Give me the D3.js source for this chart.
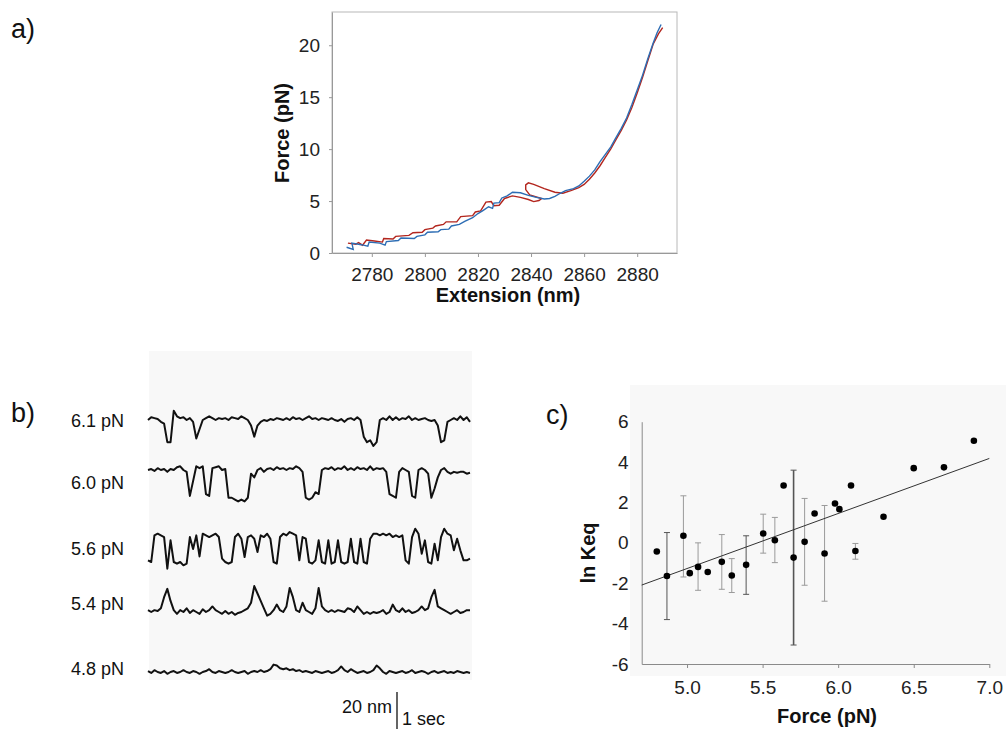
<!DOCTYPE html>
<html>
<head>
<meta charset="utf-8">
<script src="https://cdn.jsdelivr.net/npm/d3@7"></script>
<style>
  body { margin: 0; background: #fff; }
  svg { font-family: "Liberation Sans", Arial, sans-serif; }
  .tick text { fill: #222; }
</style>
</head>
<body>
<div id="fig"></div>
<script>
// ---- panel a: force-extension curves (blue = stretch, red = relax)
var blue_ext = [2770.5, 2773, 2772.5, 2776, 2778.5, 2779, 2783, 2785, 2785.5, 2790, 2791, 2796, 2797, 2800, 2801, 2805, 2806, 2809, 2810, 2813, 2815, 2818, 2820, 2822, 2824, 2825.5, 2826, 2828, 2829, 2831, 2833, 2836, 2839, 2842, 2845, 2847, 2849, 2851, 2853, 2856, 2858, 2860, 2862, 2864, 2866, 2868, 2870, 2872, 2874, 2876, 2878, 2880, 2882, 2884, 2886, 2887.5, 2889];
var blue_force = [0.55, 0.35, 0.95, 0.8, 0.65, 1.05, 0.95, 0.75, 1.1, 1.2, 1.45, 1.4, 1.6, 1.75, 2.0, 2.05, 2.25, 2.3, 2.6, 2.75, 3.05, 3.4, 3.8, 4.1, 4.45, 4.3, 4.8, 4.85, 5.3, 5.5, 5.85, 5.8, 5.55, 5.35, 5.2, 5.25, 5.45, 5.75, 6.0, 6.2, 6.45, 6.9, 7.4, 8.0, 8.8, 9.5, 10.2, 11.1, 12.0, 13.0, 14.3, 15.7, 17.1, 18.7, 20.2, 21.2, 22.0];
var red_ext = [2771, 2774, 2775, 2776.5, 2778, 2781, 2784, 2784.5, 2788, 2789, 2794, 2795.5, 2799, 2800, 2803, 2804, 2807, 2808, 2812, 2813.5, 2818, 2819, 2821, 2823, 2825, 2826, 2828, 2830, 2833, 2836, 2839, 2841, 2843, 2844, 2839.5, 2838, 2838, 2839, 2841, 2845, 2849, 2852, 2855, 2858, 2860, 2862, 2864, 2866, 2868, 2870, 2872, 2874, 2876, 2878, 2880, 2882, 2884, 2886, 2888, 2889.6];
var red_force = [0.95, 0.85, 1.0, 0.75, 1.25, 1.15, 1.05, 1.4, 1.35, 1.6, 1.7, 1.95, 2.0, 2.25, 2.4, 2.6, 2.75, 3.0, 3.0, 3.5, 3.6, 3.95, 4.05, 4.9, 4.95, 4.55, 4.6, 5.25, 5.5, 5.35, 5.15, 4.95, 5.05, 5.25, 5.6, 6.1, 6.55, 6.75, 6.6, 6.2, 5.85, 5.75, 6.0, 6.3, 6.6, 7.1, 7.7, 8.4, 9.2, 10.0, 10.9, 11.8, 12.8, 14.0, 15.4, 16.9, 18.5, 20.1, 21.1, 21.7];
var a_xticks = [2780, 2800, 2820, 2840, 2860, 2880];
var a_yticks = [0, 5, 10, 15, 20];

// ---- panel b: extension time traces (nm, up = longer), one sample per step
var trace_labels = ["6.1 pN", "6.0 pN", "5.6 pN", "5.4 pN", "4.8 pN"];
var trace_61 = [0, 1.5, 1, 0.5, -1, -2, -12, -12, 5, 2, 1, 1.5, 0, 1, -1, -10, -5, 0, 1, 2, 1, 0, 1, 0.5, 1, 0, 1.5, 1, 0.5, 2, 1, 0, -3, -9, -3, -1, 0, -0.5, 0.5, 0, 1, 0.5, 0, 1, 0, 1.5, 0.5, 1, 0, 1, 2, 0.5, 1, 0, 1, 0.5, 0, 1, 0, -0.5, 0.5, -1, 0.5, 1, 0, 1.5, 0, -9, -12, -11, -14, -12, 0, 1, 0, 2, 0, 1.5, 0, 1, 0.5, 2, 0, 1, 0, 0.5, 1, 0, -0.5, 0, -3, -12, -11, -1, 0, 1, 0, 2, 0, 1.5, -1];
var trace_60 = [0, 0.5, -0.5, 1, 0, 0.5, -1, 0.5, 0, 1.5, 2, 0, -1, -14, -6, 2, 1, 2, -13, -14, 1, 1.5, 2, 0, 0.5, -15, -15, -16, -17, -16, -17, -15, -2, -4, 0, 1, -1, 0.5, 1, 0, 1.5, 0.5, 1, 0, 1, 0.5, 2, 1, -1, -15, -16, -15, -12, -13, 0, 1, 0.5, 1.5, 0, 1, 0.5, 2, 0, 1, 0, 1.5, 0.5, 1, 0, 2, 0, 1, 0.5, 1, -1, -13, -14, -15, -1, 1, 0, -1, -14, -15, 0, 1, 0, -2, -15, -10, -4, 0, 1, -1, -2, -1, -1.5, -1, -1, -2, -1.5];
var trace_56 = [0.9, 0, 14.4, 15.3, 14.4, 13.5, -3.6, 11.7, 0, -0.9, 0, -1.8, -0.9, 13.5, 7, 14.4, 3, 15.3, 14.4, 13.5, 14.4, 15.3, 13.5, 1.8, 0, -0.9, 0, 13.5, 15.3, 12.6, 2.7, 13.5, 14.4, 12.6, 5.4, 14.4, 13.5, 15.3, 12.6, 0, -0.9, 13.5, 15.3, 14.4, 16.2, 15.3, 14.4, 0.9, 13.5, 12.6, 0, -0.9, 0.9, 11.7, 0, -0.9, 11.7, -0.9, 0, 11.7, 0, -0.9, 0, 12.6, 0, -0.9, 12.6, 0, -0.9, 12.6, 15.3, 15.3, 14.4, 15.3, 14.4, 15.3, 13.5, 14.4, 13.5, 14.4, 0.9, -0.9, 13.5, 18, 15.3, 4.5, 11.7, 0, -0.9, 9.9, 0.9, 13.5, 18, 15.3, 14.4, 6.3, 12.6, 6.3, 0.9, 0.9, 1.8];
var trace_54 = [1, 0, 1, 0.5, 2, 8, 12.5, 6, 1, -1, 1, 0, 2, -0.5, 1, 0, -1, 1.5, 0, 1, 3, 1, 0, -1, 0.5, -1, 0, -1.5, -0.5, 0, 1, 2, 5, 14, 10, 6, 2, -2, -1, 1, 4, 1, 0, 3, 13, 8, 1, 0, 5, 1, 0, -1, 2, 13, 3, 1, 0, 1, 0, 1, 0.5, 0, 2, 1.5, 0, 3, 1, -1, 0, -1, 0, -0.5, 0, 1, -1, 0, 4, 1, 0, 2, 0, 1, -0.5, 0, 1, 3, 1, 2, 8, 12, 3, 2, 1, 0, -1, 0, 1, -0.5, 0, 1, 1];
var trace_48 = [0.5, -0.5, 1, 0, -0.5, 0.5, -1, 0, 0.5, -0.5, 0, 1, 0, -0.5, 0.5, 0, -1, 0, 0.5, 1.5, 0, -0.5, 0.5, 0, -0.5, 0, 1, 0, -0.5, 0, 0.5, -1, 0, 0.5, 0, 1, 0, 0.5, 1.5, 4, 3.5, 2, 1.5, 2, 1, 1.5, 0.5, 1, 0, 0.5, 0, -0.5, 0.5, 0, -0.5, 0, 0.5, -0.5, 0, 1, 3, 1, 0, 1.5, 0.5, -0.5, 0, 0.5, -0.5, 0, 1, 3.5, 2, 0, -1, 0.5, 0, -0.5, 0, 0.5, -0.5, 0, 1, -0.5, 0, 0.5, 0, -1, 0, 0.5, -0.5, 0, 0.5, -0.5, 0, -0.5, 0.5, 0, -0.5, 0, -0.5];

// ---- panel c: ln Keq vs force with error bars and linear fit
var c_force = [4.80, 4.867, 4.976, 5.018, 5.073, 5.137, 5.23, 5.296, 5.391, 5.504, 5.581, 5.639, 5.705, 5.778, 5.844, 5.910, 5.979, 6.008, 6.085, 6.114, 6.30, 6.50, 6.70, 6.898];
var c_lnkeq = [-0.43, -1.64, 0.35, -1.50, -1.19, -1.44, -0.94, -1.62, -1.09, 0.46, 0.13, 2.84, -0.73, 0.05, 1.45, -0.53, 1.95, 1.67, 2.84, -0.40, 1.29, 3.70, 3.74, 5.06];
var c_err_hi = [null, 0.51, 2.33, null, 0.0, null, 0.41, -0.78, 0.35, 1.42, 1.26, null, 3.60, 2.20, null, 1.85, null, null, null, -0.03, null, null, null, null];
var c_err_lo = [null, -3.80, -1.69, null, -2.35, null, -2.30, -2.46, -2.55, -0.51, -0.98, null, -5.06, -2.10, null, -2.89, null, null, null, -0.81, null, null, null, null];
var fit_x = [4.7, 7.0];
var fit_y = [-2.09, 4.18];
var c_xticks = [5.0, 5.5, 6.0, 6.5, 7.0];
var c_yticks = [-6, -4, -2, 0, 2, 4, 6];

var w = 1006, h = 729;
var svg = d3.select("#fig").append("svg").attr("width", w).attr("height", h);

// panel letters
function panelLabel(txt, x, y) {
	svg.append("text").attr("x", x).attr("y", y).attr("font-size", 27).attr("fill", "#111").text(txt);
}
panelLabel("a)", 11, 38);
panelLabel("b)", 11, 422);
panelLabel("c)", 546, 424);

// ---------------- panel a
function drawPanelA() {
	var x = d3.scaleLinear().domain([2765, 2895]).range([332, 677]);
	var y = d3.scaleLinear().domain([0, 23.2]).range([253, 12]);
	var g = svg.append("g");

	g.append("rect").attr("x", 332).attr("y", 12).attr("width", 345).attr("height", 241)
		.attr("fill", "#fff").attr("stroke", "#b8b8b8");

	var xa = g.append("g").attr("transform", "translate(0,253)")
		.call(d3.axisBottom(x).tickValues(a_xticks).tickFormat(d3.format("d")).tickSize(4).tickPadding(11).tickSizeOuter(0));
	var ya = g.append("g").attr("transform", "translate(332,0)")
		.call(d3.axisLeft(y).tickValues(a_yticks).tickSize(3).tickPadding(9).tickSizeOuter(0));
	[xa, ya].forEach(function(a) {
		a.selectAll("path,line").attr("stroke", "#999");
		a.selectAll("text").attr("font-size", 19);
	});

	var line = d3.line().x(function(d) { return x(d[0]); }).y(function(d) { return y(d[1]); });
	var red = d3.zip(red_ext, red_force);
	var blue = d3.zip(blue_ext, blue_force);
	g.append("path").attr("d", line(red)).attr("fill", "none").attr("stroke", "#b3261e").attr("stroke-width", 1.4);
	g.append("path").attr("d", line(blue)).attr("fill", "none").attr("stroke", "#2d6db4").attr("stroke-width", 1.4);

	g.append("text").attr("transform", "translate(289,133) rotate(-90)").attr("text-anchor", "middle")
		.attr("font-size", 20).attr("font-weight", "bold").attr("fill", "#111").text("Force (pN)");
	g.append("text").attr("x", 508).attr("y", 302).attr("text-anchor", "middle")
		.attr("font-size", 20).attr("font-weight", "bold").attr("fill", "#111").text("Extension (nm)");
}

// ---------------- panel b
function drawPanelB() {
	var traces = [trace_61, trace_60, trace_56, trace_54, trace_48];
	var baselines = [420, 470, 562, 612, 672];
	var label_y = [427, 489, 555, 610, 675];
	var g = svg.append("g");

	g.append("rect").attr("x", 149).attr("y", 351).attr("width", 323).attr("height", 329).attr("fill", "#f8f8f8");

	var nm = d3.scaleLinear().domain([0, 20]).range([0, -37]);   // 20 nm scale bar = 37 px

	traces.forEach(function(t, k) {
		var x = d3.scaleLinear().domain([0, t.length - 1]).range([148, 470]);
		var line = d3.line()
			.x(function(d, i) { return x(i); })
			.y(function(d) { return baselines[k] + nm(d); });
		g.append("path").attr("d", line(t)).attr("fill", "none")
			.attr("stroke", "#111").attr("stroke-width", 2).attr("stroke-linejoin", "round");
		g.append("text").attr("x", 124).attr("y", label_y[k]).attr("text-anchor", "end")
			.attr("font-size", 18).attr("fill", "#111").text(trace_labels[k]);
	});

	// scale bar
	g.append("line").attr("x1", 397).attr("x2", 397).attr("y1", 729 + nm(20)).attr("y2", 729)
		.attr("stroke", "#111").attr("stroke-width", 1.3);
	g.append("text").attr("x", 392).attr("y", 713).attr("text-anchor", "end").attr("font-size", 18).attr("fill", "#111").text("20 nm");
	g.append("text").attr("x", 402).attr("y", 725).attr("font-size", 18).attr("fill", "#111").text("1 sec");
}

// ---------------- panel c
function drawPanelC() {
	var x = d3.scaleLinear().domain([4.7, 7.0]).range([641.7, 989.3]);
	var y = d3.scaleLinear().domain([-6, 6]).range([664, 421.7]);
	var g = svg.append("g");

	g.append("rect").attr("x", 630).attr("y", 385).attr("width", 376).attr("height", 291).attr("fill", "#f8f8f8");

	var xa = g.append("g").attr("transform", "translate(0,664)")
		.call(d3.axisBottom(x).tickValues(c_xticks).tickFormat(d3.format(".1f")).tickSize(4).tickPadding(13).tickSizeOuter(0));
	var ya = g.append("g").attr("transform", "translate(641.7,0)")
		.call(d3.axisLeft(y).tickValues(c_yticks).tickSize(0).tickPadding(13));
	[xa, ya].forEach(function(a) {
		a.selectAll("path,line").attr("stroke", "#8a8a8a");
		a.selectAll("text").attr("font-size", 19);
	});
	ya.selectAll("text").text(function(d) { return d < 0 ? "-" + Math.abs(d) : d; });

	// error bars
	var dark = [1, 8, 12];
	c_force.forEach(function(f, i) {
		if (c_err_hi[i] === null) return;
		var col = dark.indexOf(i) >= 0 ? "#555" : "#9a9a9a";
		var sw = i == 12 ? 1.6 : 1;
		g.append("line").attr("x1", x(f)).attr("x2", x(f)).attr("y1", y(c_err_hi[i])).attr("y2", y(c_err_lo[i]))
			.attr("stroke", col).attr("stroke-width", sw);
		[c_err_hi[i], c_err_lo[i]].forEach(function(v) {
			g.append("line").attr("x1", x(f) - 3).attr("x2", x(f) + 3).attr("y1", y(v)).attr("y2", y(v))
				.attr("stroke", col).attr("stroke-width", 1);
		});
	});

	// fit line
	g.append("line").attr("x1", x(fit_x[0])).attr("y1", y(fit_y[0])).attr("x2", x(fit_x[1])).attr("y2", y(fit_y[1]))
		.attr("stroke", "#333").attr("stroke-width", 1);

	g.selectAll(".dot").data(d3.zip(c_force, c_lnkeq)).enter().append("circle")
		.attr("class", "dot")
		.attr("cx", function(d) { return x(d[0]); })
		.attr("cy", function(d) { return y(d[1]); })
		.attr("r", 3.3).attr("fill", "#000");

	g.append("text").attr("transform", "translate(595,553) rotate(-90)").attr("text-anchor", "middle")
		.attr("font-size", 20).attr("font-weight", "bold").attr("fill", "#111").text("ln Keq");
	g.append("text").attr("x", 827).attr("y", 723).attr("text-anchor", "middle")
		.attr("font-size", 20).attr("font-weight", "bold").attr("fill", "#111").text("Force (pN)");
}

drawPanelA();
drawPanelB();
drawPanelC();
</script>
</body>
</html>
